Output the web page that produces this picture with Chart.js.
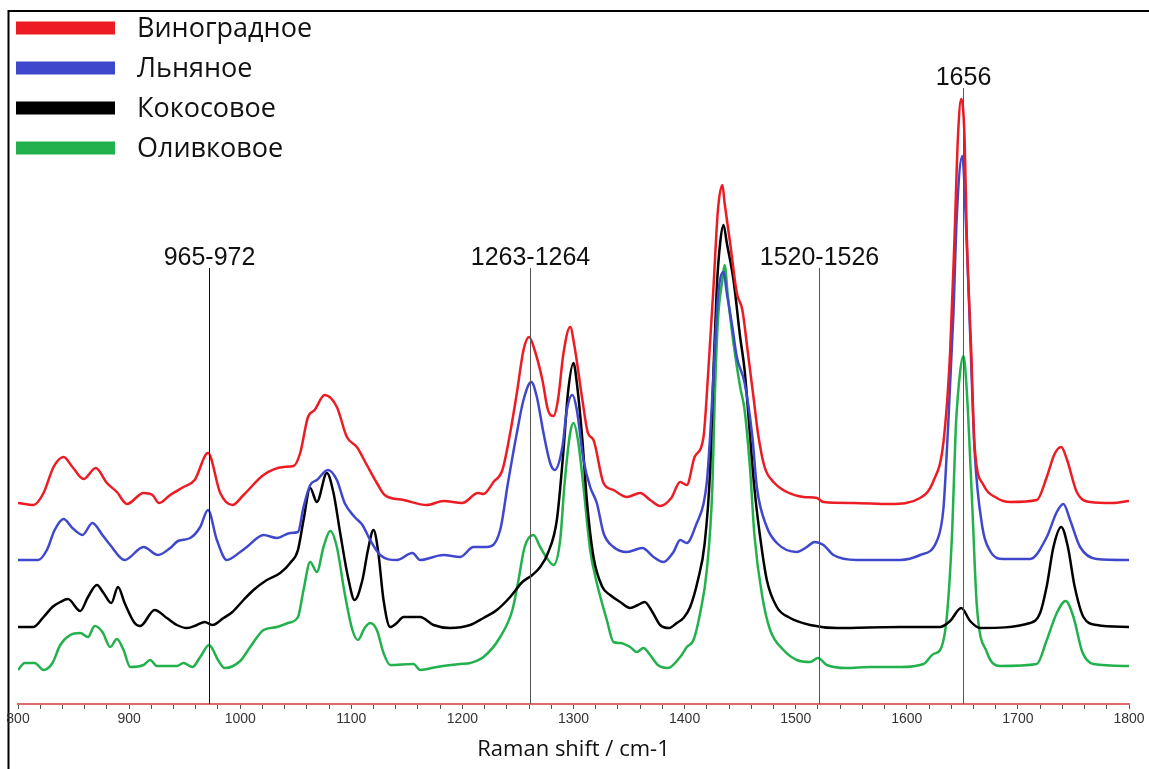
<!DOCTYPE html>
<html>
<head>
<meta charset="utf-8">
<script src="https://cdn.jsdelivr.net/npm/chart.js@4.4.1/dist/chart.umd.min.js"></script>
<style>
  body { margin: 0; background: #fff; }
  #wrap { width: 1149px; height: 769px; }
</style>
</head>
<body>
<div id="wrap"><canvas id="spectra"></canvas></div>
<script>
const seriesNames = ["Виноградное", "Льняное", "Кокосовое", "Оливковое"];
const seriesColors = ["#ed1c24", "#3f48cc", "#000000", "#22b14c"];

// [Raman shift, intensity (a.u., stacked offsets included)]
const grape = [
  [800,201],[814,199],[823,211],[832,237],[841,247],[849,237],[859,225],[870,236],[880,221],[889,212],
  [898,200],[913,211],[921,209],[927,201],[937,209],[949,217],[959,224],[971,251],[982,211],[993,199],
  [1003,209],[1021,229],[1039,237],[1048,238],[1054,251],[1061,287],[1067,294],[1076,309],[1087,297],[1096,267],
  [1105,257],[1114,239],[1123,221],[1130,209],[1147,204],[1168,199],[1183,203],[1200,201],[1214,211],[1219,210],
  [1228,222],[1236,234],[1243,271],[1249,311],[1255,354],[1260,367],[1265,354],[1272,324],[1277,294],[1282,288],
  [1286,304],[1291,351],[1297,377],[1301,357],[1308,304],[1313,271],[1318,264],[1327,221],[1336,214],[1348,207],
  [1360,211],[1369,204],[1378,198],[1388,206],[1396,222],[1402,219],[1409,247],[1417,267],[1421,327],[1426,417],
  [1430,494],[1434,519],[1436,501],[1441,461],[1447,411],[1452,394],[1457,351],[1462,307],[1466,271],[1472,237],
  [1480,222],[1492,212],[1507,207],[1519,206],[1525,202],[1552,201],[1585,200],[1612,206],[1624,223],[1633,262],
  [1639,352],[1643,468],[1646,566],[1649,605],[1652,566],[1654,468],[1658,352],[1661,258],[1669,219],[1681,206],
  [1693,202],[1717,204],[1726,227],[1733,250],[1739,257],[1744,245],[1753,212],[1765,202],[1785,201],[1800,203]
];
const linseed = [
  [800,144],[818,144],[826,154],[833,174],[841,185],[849,176],[858,169],[867,181],[876,169],[883,159],
  [896,144],[913,157],[926,149],[937,156],[944,163],[955,166],[964,177],[971,194],[979,164],[988,144],
  [1000,152],[1006,157],[1021,169],[1033,166],[1045,171],[1052,172],[1057,197],[1063,219],[1069,224],[1079,234],
  [1087,224],[1094,201],[1103,187],[1110,179],[1117,164],[1126,149],[1141,144],[1155,151],[1162,144],[1183,149],
  [1198,147],[1210,157],[1222,157],[1234,174],[1241,221],[1249,271],[1255,304],[1262,322],[1267,307],[1273,271],
  [1279,241],[1283,234],[1290,257],[1294,294],[1299,309],[1303,294],[1309,244],[1315,217],[1321,201],[1327,171],
  [1336,157],[1348,152],[1362,156],[1372,147],[1381,142],[1390,152],[1396,164],[1402,161],[1411,181],[1417,200],
  [1420,222],[1423,268],[1427,350],[1430,407],[1435,432],[1438,411],[1443,377],[1447,347],[1454,321],[1461,267],
  [1465,217],[1474,177],[1483,161],[1501,152],[1510,157],[1517,162],[1525,159],[1534,149],[1555,144],[1594,144],
  [1612,149],[1627,163],[1633,196],[1637,274],[1642,391],[1645,488],[1650,548],[1653,488],[1657,371],[1661,254],
  [1668,177],[1675,153],[1687,145],[1711,145],[1726,167],[1735,192],[1741,200],[1747,184],[1756,157],[1771,145],
  [1800,144]
];
const coconut = [
  [800,77],[814,77],[823,87],[831,97],[838,102],[845,105],[856,93],[863,107],[871,119],[877,111],
  [884,101],[890,117],[896,101],[905,81],[910,78],[923,94],[934,86],[943,79],[952,76],[961,79],
  [968,82],[975,79],[985,86],[993,92],[1003,104],[1012,114],[1024,124],[1036,131],[1045,141],[1052,154],
  [1057,184],[1063,216],[1069,202],[1078,231],[1084,211],[1090,171],[1097,127],[1103,104],[1110,124],[1115,154],
  [1120,174],[1124,154],[1129,104],[1135,77],[1141,81],[1147,87],[1162,87],[1174,79],[1189,76],[1207,79],
  [1219,86],[1231,94],[1243,107],[1254,122],[1263,129],[1270,137],[1277,151],[1285,184],[1291,254],[1295,311],
  [1300,341],[1303,321],[1308,264],[1312,204],[1318,147],[1326,117],[1333,109],[1342,102],[1351,96],[1358,99],
  [1364,102],[1371,92],[1378,79],[1386,76],[1393,81],[1399,86],[1405,97],[1412,124],[1418,160],[1423,234],
  [1426,334],[1429,417],[1432,461],[1435,479],[1438,461],[1444,424],[1450,367],[1454,334],[1459,267],[1463,214],
  [1468,167],[1474,124],[1483,97],[1495,86],[1513,79],[1537,76],[1594,77],[1630,77],[1639,83],[1649,96],
  [1657,83],[1666,76],[1711,81],[1720,91],[1726,118],[1732,157],[1739,177],[1745,157],[1751,118],[1759,87],
  [1771,79],[1800,77]
];
const olive = [
  [800,34],[806,41],[815,41],[823,34],[831,41],[838,59],[847,69],[856,71],[863,67],[869,78],
  [876,72],[883,57],[889,65],[895,54],[901,37],[913,39],[919,44],[925,38],[943,38],[949,41],
  [957,37],[964,47],[972,59],[980,44],[986,36],[1000,43],[1009,57],[1021,74],[1033,77],[1043,81],
  [1052,87],[1057,114],[1063,142],[1069,132],[1075,157],[1081,173],[1087,157],[1094,111],[1101,74],[1106,64],
  [1112,76],[1117,81],[1123,74],[1129,51],[1135,39],[1156,40],[1162,34],[1177,37],[1198,40],[1207,41],
  [1219,47],[1234,67],[1245,94],[1250,121],[1256,157],[1264,169],[1270,157],[1276,146],[1282,139],[1288,164],
  [1292,221],[1297,271],[1300,281],[1304,264],[1309,217],[1315,154],[1321,121],[1330,84],[1336,62],[1342,61],
  [1351,57],[1357,52],[1363,56],[1369,49],[1376,39],[1385,36],[1396,47],[1402,57],[1408,64],[1414,91],
  [1420,134],[1425,217],[1427,301],[1430,384],[1434,424],[1436,439],[1439,407],[1444,361],[1450,317],[1454,294],
  [1459,234],[1463,167],[1470,107],[1477,74],[1489,54],[1501,44],[1513,42],[1520,46],[1528,39],[1546,36],
  [1567,37],[1594,37],[1615,40],[1624,50],[1630,54],[1636,87],[1641,177],[1644,274],[1648,332],[1651,348],
  [1654,313],[1659,196],[1663,99],[1672,52],[1684,38],[1717,40],[1726,64],[1735,91],[1743,103],[1750,87],
  [1758,52],[1768,40],[1800,38]
];
const spectra = [grape, linseed, coconut, olive];

// marked bands
const markerShifts = [972, 1261, 1521, 1651];
const markerLabels = ["965-972", "1263-1264", "1520-1526", "1656"];

// frame line round the top and left edge
const framePlugin = {
  id: "frame",
  beforeDraw(chart) {
    const ctx = chart.ctx;
    ctx.save();
    ctx.strokeStyle = "#000";
    ctx.lineWidth = 2;
    ctx.beginPath();
    ctx.moveTo(8.5, chart.height);
    ctx.lineTo(8.5, 11);
    ctx.lineTo(chart.width, 11);
    ctx.stroke();
    ctx.restore();
  }
};

// vertical band markers with labels
const markerPlugin = {
  id: "markers",
  afterDatasetsDraw(chart, args, opts) {
    const {ctx, chartArea, scales} = chart;
    ctx.save();
    ctx.font = "25px 'Liberation Sans', Arial, sans-serif";
    ctx.textAlign = "center";
    ctx.textBaseline = "alphabetic";
    markerShifts.forEach((s, i) => {
      const x = Math.round(scales.x.getPixelForValue(s)) + 0.5;
      const top = scales.y.getPixelForValue(opts.tops[i]);
      ctx.strokeStyle = i === 0 ? "#111" : "#555";
      ctx.lineWidth = 1;
      ctx.beginPath();
      ctx.moveTo(x, chartArea.bottom);
      ctx.lineTo(x, top);
      ctx.stroke();
      ctx.fillStyle = "#111";
      ctx.fillText(markerLabels[i], x, top - 3);
    });
    ctx.restore();
  }
};

// legend as thick bars with names
const legendPlugin = {
  id: "barLegend",
  afterDraw(chart) {
    const ctx = chart.ctx;
    ctx.save();
    ctx.font = "27px 'Open Sans', sans-serif";
    ctx.textBaseline = "alphabetic";
    chart.data.datasets.forEach((ds, i) => {
      const cy = 28 + i * 40;
      ctx.fillStyle = ds.borderColor;
      ctx.fillRect(16, cy - 6.5, 99, 13);
      ctx.fillStyle = "#111";
      ctx.fillText(ds.label, 137, cy + 9);
    });
    ctx.restore();
  }
};

new Chart(document.getElementById("spectra"), {
  type: "line",
  data: {
    datasets: spectra.map((s, i) => ({
      label: seriesNames[i],
      data: s.map(p => ({x: p[0], y: p[1]})),
      borderColor: seriesColors[i],
      borderWidth: 2.5,
      pointRadius: 0,
      cubicInterpolationMode: "monotone",
      fill: false
    }))
  },
  options: {
    responsive: true,
    maintainAspectRatio: false,
    animation: false,
    layout: { padding: { left: 18, right: 20, top: 10, bottom: 0 } },
    plugins: {
      legend: { display: false },
      tooltip: { enabled: false },
      markers: { tops: [436, 436, 436, 616] }
    },
    scales: {
      x: {
        type: "linear",
        min: 800,
        max: 1800,
        afterFit(scale) { scale.height = 65; },
        ticks: {
          stepSize: 20,
          autoSkip: false,
          maxRotation: 0,
          padding: 2,
          color: "#333",
          font: { family: "'Liberation Sans', Arial, sans-serif", size: 14 },
          callback: v => (v % 100 === 0 ? v : "")
        },
        grid: { drawOnChartArea: false, tickLength: 5, tickColor: "#555" },
        border: { color: "#e06a6a", width: 2 },
        title: {
          display: true,
          text: "Raman shift / cm-1",
          color: "#111",
          font: { family: "'Open Sans', sans-serif", size: 22 },
          padding: { top: 0, bottom: 6 }
        }
      },
      y: { display: false, min: 0, max: 694 }
    }
  },
  plugins: [framePlugin, markerPlugin, legendPlugin]
});
</script>
</body>
</html>
